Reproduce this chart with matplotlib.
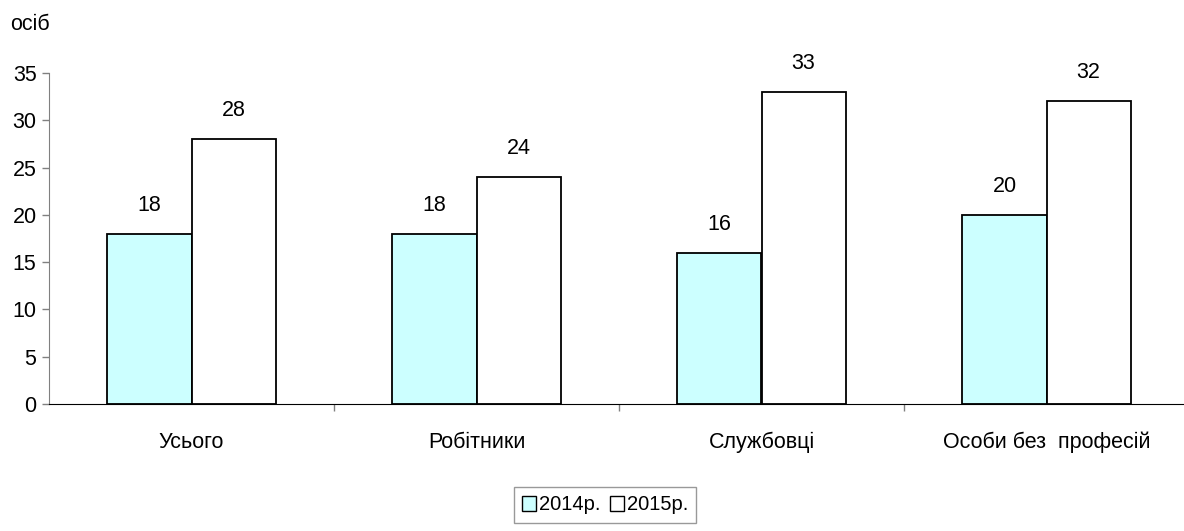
import matplotlib
matplotlib.use("Agg")
import matplotlib.pyplot as plt
import numpy as np
from matplotlib.patches import Patch

plt.rcParams['font.family'] = ['Liberation Sans', 'DejaVu Sans']

categories = ["Усього", "Робітники", "Службовці", "Особи без  професій"]
v2014 = [18, 18, 16, 20]
v2015 = [28, 24, 33, 32]
yticks = [0, 5, 10, 15, 20, 25, 30, 35]

FS = 15.5
W, H = 1184, 531
fig = plt.figure(figsize=(W/100, H/100), dpi=100)
ax = fig.add_axes([49/W, 1-404/H, (1189-49)/W, (404-73)/H])

x = np.arange(len(categories))
bw = 0.295
b1 = ax.bar(x - bw/2, v2014, bw, color='#CCFFFF', edgecolor='black', linewidth=1.3)
b2 = ax.bar(x + bw/2, v2015, bw, color='white', edgecolor='black', linewidth=1.3)
for rects, vals in ((b1, v2014), (b2, v2015)):
    for r, v in zip(rects, vals):
        ax.annotate(str(v), (r.get_x() + r.get_width()/2, v), xytext=(0, 13),
                    textcoords='offset points', ha='center', va='bottom', fontsize=FS)

ax.set_xlim(-0.5, 3.5)
ax.set_ylim(0, 35)
ax.set_yticks(yticks)
ax.tick_params(axis='y', labelsize=FS, length=5, width=1, color='#808080', pad=4)
ax.set_xticks(x)
ax.set_xticklabels(categories, fontsize=FS)
ax.tick_params(axis='x', length=0, pad=20)
ax.set_xticks([0.5, 1.5, 2.5], minor=True)
ax.tick_params(axis='x', which='minor', length=5, width=1, color='#808080')
for s in ('top', 'right'):
    ax.spines[s].set_visible(False)
ax.spines['left'].set_color('#808080')
ax.spines['bottom'].set_color('black')

fig.text(10/W, 1-25/H, "осіб", fontsize=FS, va='center', ha='left')

handles = [Patch(facecolor='#CCFFFF', edgecolor='black', label='2014р.'),
           Patch(facecolor='white', edgecolor='black', label='2015р.')]
leg = fig.legend(handles=handles, loc='center', bbox_to_anchor=(605/W, 1-505/H), ncol=2,
                 fontsize=14.5, frameon=True, fancybox=False, handlelength=0.7, handleheight=0.7,
                 handletextpad=0.15, columnspacing=0.45, borderpad=0.4, borderaxespad=0)
leg.get_frame().set_edgecolor('#808080')
leg.get_frame().set_linewidth(1)

fig.savefig("out.png", dpi=100)
